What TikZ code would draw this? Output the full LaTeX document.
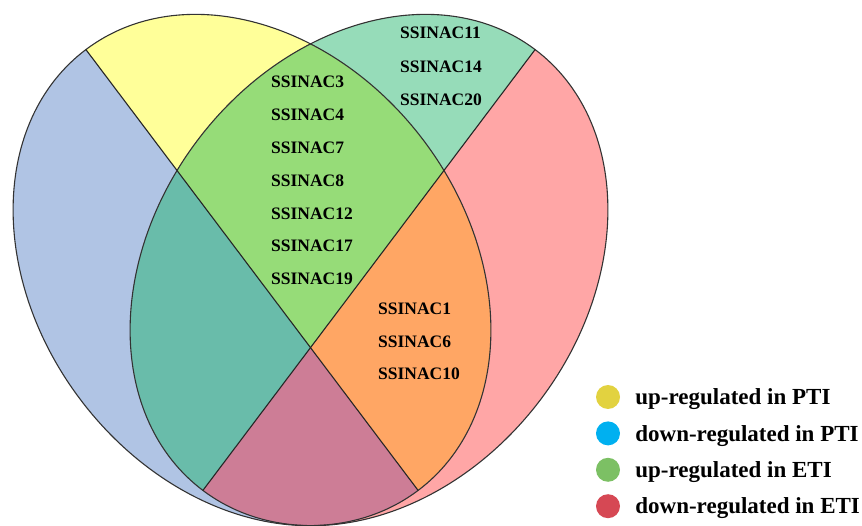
\documentclass[tikz,border=0pt]{standalone}
\usepackage{fontspec}
\setmainfont{Liberation Serif}
\usetikzlibrary{positioning,calc}
\definecolor{ptiupcolor}{RGB}{255,255,153}
\definecolor{ptidowncolor}{RGB}{176,196,228}
\definecolor{etiupcolor}{RGB}{150,220,185}
\definecolor{etidowncolor}{RGB}{255,166,166}
\definecolor{upupcolor}{RGB}{150,220,120}
\definecolor{downupcolor}{RGB}{105,188,170}
\definecolor{updowncolor}{RGB}{255,166,100}
\definecolor{downdowncolor}{RGB}{205,125,150}
\definecolor{ptiupkey}{RGB}{226,210,64}
\definecolor{ptidownkey}{RGB}{0,176,240}
\definecolor{etiupkey}{RGB}{124,192,100}
\definecolor{etidownkey}{RGB}{214,72,84}

\newcommand{\ptioval}{(252,255) ellipse [x radius=276pt, y radius=215pt]}
\newcommand{\etioval}{(369,255) ellipse [x radius=276pt, y radius=215pt]}

\begin{document}
\begin{tikzpicture}[
    x=1pt, y=1pt,
    ptiframe/.style={rotate around={-53:(252,255)}},
    etiframe/.style={rotate around={53:(369,255)}},
    outline/.style={draw=black!80, line width=1.1pt},
    divider/.style={draw=black!85, line width=1.1pt},
    gene/.style={font=\fontsize{17.5}{20}\selectfont\bfseries, inner sep=0pt, text height=12pt, text depth=0pt},
    keydot/.style={circle, minimum size=24pt, inner sep=0pt},
    keytext/.style={font=\fontsize{23}{26}\selectfont\bfseries, inner sep=0pt, text height=15.5pt, text depth=0pt}
]
\useasboundingbox (0,0) rectangle (862,525);

% ===== CENTRES =====
\coordinate (ptic) at (252,255);
\coordinate (etic) at (369,255);

% ===== PTI SET (LEFT) =====
\fill[ptidowncolor, ptiframe] \ptioval;
\begin{scope}
    \clip[ptiframe] \ptioval;
    \fill[ptiupcolor, ptiframe] (-48,255) rectangle (552,555);
\end{scope}

% ===== ETI SET (RIGHT) =====
\fill[etidowncolor, etiframe] \etioval;
\begin{scope}
    \clip[etiframe] \etioval;
    \fill[etiupcolor, etiframe] (69,255) rectangle (669,555);
\end{scope}

% ===== OVERLAP =====
\begin{scope}
    \clip[ptiframe] \ptioval;
    \clip[etiframe] \etioval;
    \fill[downdowncolor] (0,0) rectangle (862,525);
    \fill[updowncolor, ptiframe] (-48,255) rectangle (552,555);
    \fill[downupcolor, etiframe] (69,255) rectangle (669,555);
    \begin{scope}
        \clip[ptiframe] (-48,255) rectangle (552,555);
        \fill[upupcolor, etiframe] (69,255) rectangle (669,555);
    \end{scope}
\end{scope}

% ===== OUTLINES =====
\draw[outline, ptiframe] \ptioval;
\draw[outline, etiframe] \etioval;

\coordinate (ptitop) at ($(ptic)+(127:276)$);
\coordinate (ptibot) at ($(ptic)+(-53:276)$);
\coordinate (etitop) at ($(etic)+(53:276)$);
\coordinate (etibot) at ($(etic)+(233:276)$);
\draw[divider] (ptitop) -- (ptibot);
\draw[divider] (etitop) -- (etibot);

% ===== GENES: UP IN PTI AND ETI =====
\node[gene, anchor=west] (nac3) at (271,443) {SSINAC3};
\node[gene, below=20.4pt of nac3.south west, anchor=north west] (nac4) {SSINAC4};
\node[gene, below=20.4pt of nac4.south west, anchor=north west] (nac7) {SSINAC7};
\node[gene, below=20.4pt of nac7.south west, anchor=north west] (nac8) {SSINAC8};
\node[gene, below=20.4pt of nac8.south west, anchor=north west] (nac12) {SSINAC12};
\node[gene, below=20.4pt of nac12.south west, anchor=north west] (nac17) {SSINAC17};
\node[gene, below=20.4pt of nac17.south west, anchor=north west] (nac19) {SSINAC19};

% ===== GENES: UP IN ETI ONLY =====
\node[gene, anchor=west] (nac11) at (400,492) {SSINAC11};
\node[gene, below=21pt of nac11.south west, anchor=north west] (nac14) {SSINAC14};
\node[gene, below=21pt of nac14.south west, anchor=north west] (nac20) {SSINAC20};

% ===== GENES: UP IN PTI, DOWN IN ETI =====
\node[gene, anchor=west] (nac1) at (378,216) {SSINAC1};
\node[gene, below=19.7pt of nac1.south west, anchor=north west] (nac6) {SSINAC6};
\node[gene, below=19.7pt of nac6.south west, anchor=north west] (nac10) {SSINAC10};

% ===== LEGEND =====
\node[keydot, fill=ptiupkey] (dot1) at (608,128) {};
\node[keydot, fill=ptidownkey, below=12pt of dot1] (dot2) {};
\node[keydot, fill=etiupkey, below=12pt of dot2] (dot3) {};
\node[keydot, fill=etidownkey, below=12pt of dot3] (dot4) {};
\node[keytext, right=15pt of dot1] (key1) {up-regulated in PTI};
\node[keytext, right=15pt of dot2] (key2) {down-regulated in PTI};
\node[keytext, right=15pt of dot3] (key3) {up-regulated in ETI};
\node[keytext, right=15pt of dot4] (key4) {down-regulated in ETI};

\end{tikzpicture}
\end{document}
